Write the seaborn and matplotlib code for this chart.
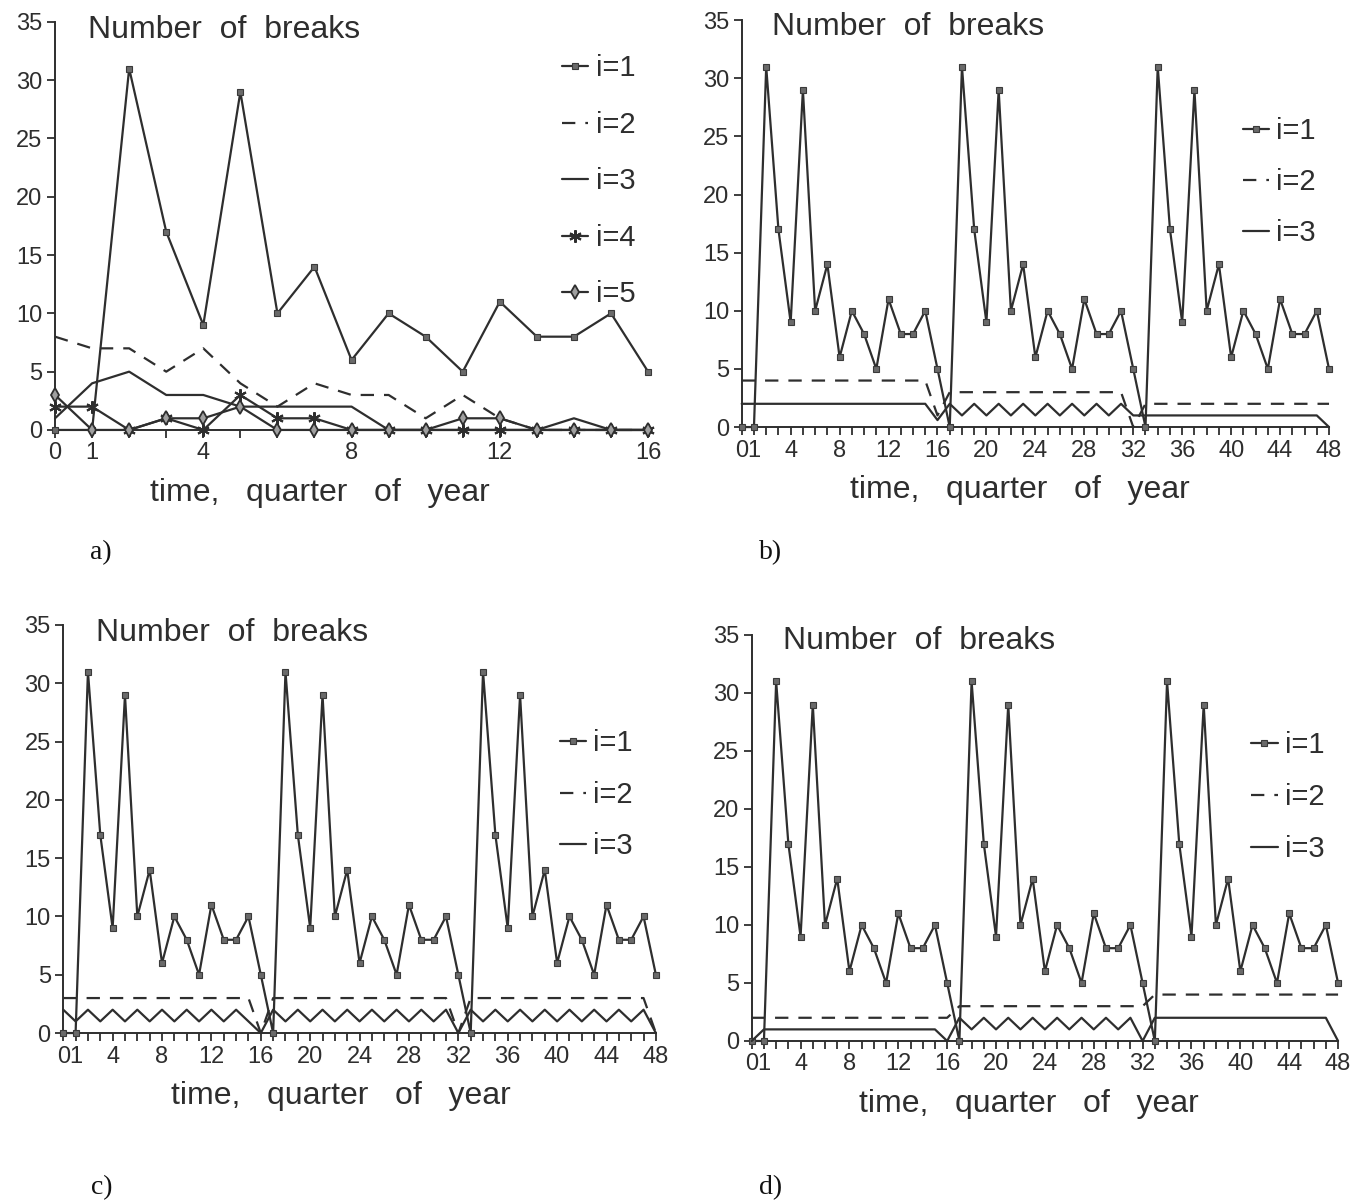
import matplotlib
matplotlib.use("Agg")
import matplotlib.pyplot as plt
from matplotlib.font_manager import FontProperties
import pandas as pd
import seaborn as sns

# ---------------------------------------------------------------------------
# Data: number of breaks per quarter for each series i
# ---------------------------------------------------------------------------
quarters_a = list(range(17))
quarters_bcd = list(range(49))

a_i1 = [0, 0, 31, 17, 9, 29, 10, 14, 6, 10, 8, 5, 11, 8, 8, 10, 5]
a_i2 = [8, 7, 7, 5, 7, 4, 2, 4, 3, 3, 1, 3, 1, 0, 0, 0, 0]
a_i3 = [1, 4, 5, 3, 3, 2, 2, 2, 2, 0, 0, 0, 0, 0, 1, 0, 0]
a_i4 = [2, 2, 0, 1, 0, 3, 1, 1, 0, 0, 0, 0, 0, 0, 0, 0, 0]
a_i5 = [3, 0, 0, 1, 1, 2, 0, 0, 0, 0, 0, 1, 1, 0, 0, 0, 0]

# i=1 is the same in panels b, c and d
bcd_i1 = [0, 0, 31, 17, 9, 29, 10, 14, 6, 10, 8, 5, 11, 8, 8, 10, 5,
          0, 31, 17, 9, 29, 10, 14, 6, 10, 8, 5, 11, 8, 8, 10, 5,
          0, 31, 17, 9, 29, 10, 14, 6, 10, 8, 5, 11, 8, 8, 10, 5]

b_i2 = [4, 4, 4, 4, 4, 4, 4, 4, 4, 4, 4, 4, 4, 4, 4, 4, 1,
        3, 3, 3, 3, 3, 3, 3, 3, 3, 3, 3, 3, 3, 3, 3, 0,
        2, 2, 2, 2, 2, 2, 2, 2, 2, 2, 2, 2, 2, 2, 2, 2]
b_i3 = [2, 2, 2, 2, 2, 2, 2, 2, 2, 2, 2, 2, 2, 2, 2, 2, 0.6,
        2, 1, 2, 1, 2, 1, 2, 1, 2, 1, 2, 1, 2, 1, 2, 1,
        1, 1, 1, 1, 1, 1, 1, 1, 1, 1, 1, 1, 1, 1, 1, 0]

c_i2 = [3, 3, 3, 3, 3, 3, 3, 3, 3, 3, 3, 3, 3, 3, 3, 3, 0,
        3, 3, 3, 3, 3, 3, 3, 3, 3, 3, 3, 3, 3, 3, 3, 0,
        3, 3, 3, 3, 3, 3, 3, 3, 3, 3, 3, 3, 3, 3, 3, 0]
c_i3 = [2, 1, 2, 1, 2, 1, 2, 1, 2, 1, 2, 1, 2, 1, 2, 1, 0,
        2, 1, 2, 1, 2, 1, 2, 1, 2, 1, 2, 1, 2, 1, 2, 0,
        2, 1, 2, 1, 2, 1, 2, 1, 2, 1, 2, 1, 2, 1, 2, 0]

d_i2 = [2, 2, 2, 2, 2, 2, 2, 2, 2, 2, 2, 2, 2, 2, 2, 2, 2,
        3, 3, 3, 3, 3, 3, 3, 3, 3, 3, 3, 3, 3, 3, 3, 3,
        4, 4, 4, 4, 4, 4, 4, 4, 4, 4, 4, 4, 4, 4, 4, 4]
d_i3 = [0, 1, 1, 1, 1, 1, 1, 1, 1, 1, 1, 1, 1, 1, 1, 1, 0,
        2, 1, 2, 1, 2, 1, 2, 1, 2, 1, 2, 1, 2, 1, 2, 0,
        2, 2, 2, 2, 2, 2, 2, 2, 2, 2, 2, 2, 2, 2, 2, 0]

labels_a = [0, 1, 4, 8, 12, 16]
labels_bcd = [0, 1, 4, 8, 12, 16, 20, 24, 28, 32, 36, 40, 44, 48]
title_text = "Number  of  breaks"
xlabel_text = "time,   quarter   of   year"

# ---------------------------------------------------------------------------
# Style
# ---------------------------------------------------------------------------
sns.set_style("ticks")
plt.rcParams["font.family"] = ["Liberation Sans", "DejaVu Sans"]
INK = "#2e2e2e"
LW = 1.6

series_style = {
    "i=1": dict(marker="s", markersize=4.0, markerfacecolor="#6a6a6a",
                markeredgecolor="#3a3a3a", markeredgewidth=0.8,
                linestyle="-"),
    "i=2": dict(marker=None, linestyle=(0, (6, 4.5))),
    "i=3": dict(marker=None, linestyle="-"),
    "i=4": dict(marker=(6, 2, 0), markersize=9, markeredgecolor=INK,
                markeredgewidth=1.5, linestyle="-"),
    "i=5": dict(marker="d", markersize=7, markerfacecolor="#a0a0a0",
                markeredgecolor=INK, markeredgewidth=1.3, linestyle="-"),
}

legend_font = FontProperties(family=["Liberation Sans Narrow", "Liberation Sans"],
                             size=21)

fig = plt.figure(figsize=(13.69, 12.04), dpi=100)

panels = [
    dict(rect=[0.0402, 0.6429, 0.4332, 0.3389], x=quarters_a,
         series={"i=1": a_i1, "i=2": a_i2, "i=3": a_i3, "i=4": a_i4, "i=5": a_i5},
         ticks=labels_a, leg=(0.855, 0.921), lspace=0.98,
         title=(0.056, 0.98), xl=0.447, tag="a)", tagpos=(0.074, 0.541)),
    dict(rect=[0.5418, 0.6453, 0.4290, 0.3380], x=quarters_bcd,
         series={"i=1": bcd_i1, "i=2": b_i2, "i=3": b_i3},
         ticks=labels_bcd, leg=(0.853, 0.761), lspace=0.78,
         title=(0.052, 0.983), xl=0.474, tag="b)", tagpos=(0.5625, 0.541)),
    dict(rect=[0.0462, 0.1420, 0.4329, 0.3389], x=quarters_bcd,
         series={"i=1": bcd_i1, "i=2": c_i2, "i=3": c_i3},
         ticks=labels_bcd, leg=(0.838, 0.744), lspace=0.80,
         title=(0.055, 0.98), xl=0.469, tag="c)", tagpos=(0.074, 0.0133)),
    dict(rect=[0.5491, 0.1354, 0.4283, 0.3372], x=quarters_bcd,
         series={"i=1": bcd_i1, "i=2": d_i2, "i=3": d_i3},
         ticks=labels_bcd, leg=(0.852, 0.763), lspace=0.82,
         title=(0.053, 0.985), xl=0.472, tag="d)", tagpos=(0.5625, 0.0133)),
]

for p in panels:
    ax = fig.add_axes(p["rect"])
    frame = pd.DataFrame({"quarter": p["x"]})
    for name, values in p["series"].items():
        frame[name] = values
    long = frame.melt(id_vars="quarter", var_name="series", value_name="breaks")

    for name in p["series"]:
        sub = long[long["series"] == name]
        sns.lineplot(data=sub, x="quarter", y="breaks", ax=ax, color=INK,
                     lw=LW, label=name, clip_on=False, zorder=3,
                     **series_style[name])

    xmax = p["x"][-1]
    ax.set_xlim(0, xmax)
    ax.set_ylim(0, 35)
    ax.set_yticks(range(0, 36, 5))
    ax.set_xticks(p["x"])
    ax.set_xticklabels([str(q) if q in p["ticks"] else "" for q in p["x"]])
    ax.set_xlabel("")
    ax.set_ylabel("")
    sns.despine(ax=ax)
    for side in ("left", "bottom"):
        ax.spines[side].set_linewidth(1.4)
        ax.spines[side].set_color(INK)
    ax.tick_params(axis="both", direction="out", length=6, width=1.3,
                   color=INK, labelcolor=INK, labelsize=17, pad=3)

    ax.text(p["title"][0], p["title"][1], title_text, transform=ax.transAxes,
            ha="left", va="center", fontsize=23, color=INK)
    ax.text(p["xl"], -0.155, xlabel_text, transform=ax.transAxes,
            ha="center", va="center", fontsize=23, color=INK)

    handles, labels = ax.get_legend_handles_labels()
    ax.legend(handles, labels, loc="upper left", bbox_to_anchor=p["leg"],
              frameon=False, handlelength=0.9, handletextpad=0.25,
              labelspacing=p["lspace"], borderaxespad=0, borderpad=0,
              prop=legend_font, labelcolor=INK)

    fig.text(p["tagpos"][0], p["tagpos"][1], p["tag"], ha="center",
             va="center", fontsize=20, color="#111111",
             family=["Liberation Serif", "DejaVu Serif"])

fig.savefig("out.png", dpi=100, facecolor="white")
